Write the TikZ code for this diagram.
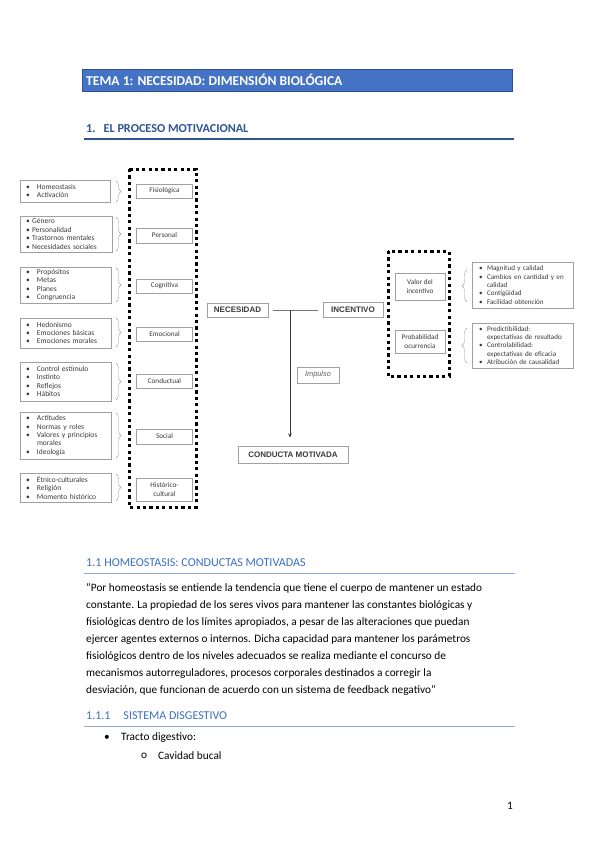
\documentclass[tikz,border=0pt]{standalone}
\usepackage{fontspec}
\setmainfont{Carlito}
\newfontfamily\arialfont{Liberation Sans}
\usetikzlibrary{positioning}
\usetikzlibrary{decorations.pathreplacing}
\usetikzlibrary{arrows.meta}

\definecolor{barblue}{HTML}{4472C4}
\definecolor{barline}{HTML}{2F528F}
\definecolor{headblue}{HTML}{2F5496}
\definecolor{subblue}{HTML}{3B6FC2}
\definecolor{rulelight}{HTML}{8EAADB}
\definecolor{boxgray}{HTML}{A0A0A0}
\definecolor{textgray}{HTML}{3A3A3A}

\newcommand{\dotitem}[1]{\makebox[11pt][l]{\textbullet}#1}
\newcommand{\dotnear}[1]{\textbullet\hspace{2.5pt}#1}
\newcommand{\dotright}[1]{\makebox[8pt][l]{\textbullet}#1}

\begin{document}
\begin{tikzpicture}[x=1pt, y=-1pt,
    itembox/.style={draw=boxgray, align=left, text=textgray, inner xsep=6pt, inner ysep=1pt,
      font=\fontsize{7.5}{8.4}\selectfont},
    catbox/.style={draw=boxgray, align=center, text=textgray, minimum width=56pt, inner sep=1pt,
      font=\fontsize{7.2}{8.4}\selectfont},
    keybox/.style={draw=boxgray, line width=1pt, text=textgray, inner sep=1pt,
      font=\arialfont\bfseries\fontsize{8}{9}\selectfont},
    brc/.style={draw=boxgray, decorate, decoration={brace, amplitude=5pt}},
    dotframe/.style={line width=3pt, dash pattern=on 3.2pt off 3.2pt}]

    \useasboundingbox[fill=white] (0,0) rectangle (599,848);

    % Header
    \node[draw=barline, fill=barblue, line width=0.8pt, minimum width=430pt, minimum height=22pt,
      anchor=north west, inner sep=0] (bar) at (82,69) {};
    \node[anchor=west, text=white, inner sep=0, font=\bfseries\fontsize{13.6}{15}\selectfont]
      (title) at (86,80) {TEMA 1: NECESIDAD: DIMENSIÓN BIOLÓGICA};
    \node[anchor=west, text=headblue, inner sep=0, font=\bfseries\fontsize{12.2}{14}\selectfont]
      (sec) at (86,129) {1.\hspace{8pt}EL PROCESO MOTIVACIONAL};
    \draw[headblue, line width=1.3pt] (84,139) -- (514,139);

    % Left items
    \node[itembox, text width=78pt, minimum height=22pt] (i1) at (65,191)
      {\dotitem{Homeostasis}\\\dotitem{Activación}};
    \node[itembox, text width=80pt, minimum height=36pt] (i2) at (66,234)
      {\dotnear{Género}\\\dotnear{Personalidad}\\\dotnear{Trastornos mentales}\\\dotnear{Necesidades sociales}};
    \node[itembox, text width=79pt, minimum height=36pt] (i3) at (65.5,285)
      {\dotitem{Propósitos}\\\dotitem{Metas}\\\dotitem{Planes}\\\dotitem{Congruencia}};
    \node[itembox, text width=79pt, minimum height=30pt] (i4) at (65.5,333)
      {\dotitem{Hedonismo}\\\dotitem{Emociones básicas}\\\dotitem{Emociones morales}};
    \node[itembox, text width=79pt, minimum height=39pt] (i5) at (65.5,381.5)
      {\dotitem{Control estímulo}\\\dotitem{Instinto}\\\dotitem{Reflejos}\\\dotitem{Hábitos}};
    \node[itembox, text width=79pt, minimum height=47pt] (i6) at (65.5,435.5)
      {\dotitem{Actitudes}\\\dotitem{Normas y roles}\\\dotitem{Valores y principios}\\\hspace*{11pt}morales\\\dotitem{Ideología}};
    \node[itembox, text width=79pt, minimum height=29pt] (i7) at (65.5,487.5)
      {\dotitem{Étnico-culturales}\\\dotitem{Religión}\\\dotitem{Momento histórico}};

    % Categories
    \node[catbox, minimum height=14pt] (fis) at (164.5,191) {Fisiológica};
    \node[catbox, minimum height=15pt] (per) at (164.5,235.5) {Personal};
    \node[catbox, minimum height=14pt] (cog) at (164.5,286) {Cognitiva};
    \node[catbox, minimum height=14pt] (emo) at (164.5,334) {Emocional};
    \node[catbox, minimum height=14pt] (con) at (164.5,381) {Conductual};
    \node[catbox, minimum height=15pt] (soc) at (164.5,436.5) {Social};
    \node[catbox, minimum height=23pt] (his) at (164.5,489.5) {Histórico-\\cultural};

    % Braces
    \draw[brc] (116,181) -- (116,202);
    \draw[brc] (116,217) -- (116,251);
    \draw[brc] (116,268) -- (116,302);
    \draw[brc] (116,318) -- (116,347);
    \draw[brc] (116,363) -- (116,400);
    \draw[brc] (116,413) -- (116,458);
    \draw[brc] (116,474) -- (116,501);

    % Windows
    \draw[dotframe] (129,169) rectangle (196,507);
    \draw[dotframe] (388,251) rectangle (449,376);

    % Centre
    \node[keybox, minimum width=61pt, minimum height=14pt] (nec) at (237.5,310) {NECESIDAD};
    \node[keybox, minimum width=60pt, minimum height=15pt] (inc) at (353,309.5) {INCENTIVO};
    \node[keybox, minimum width=110pt, minimum height=17pt] (cm) at (293,454.5) {CONDUCTA MOTIVADA};
    \node[draw=boxgray, text=textgray!80, minimum width=42pt, minimum height=16pt, inner sep=1pt,
      font=\arialfont\itshape\fontsize{7.4}{9}\selectfont] (imp) at (318,375) {Impulso};
    \coordinate (jn) at (290,310);
    \draw[textgray!70, line width=0.6pt, shorten <=4pt, shorten >=5pt] (nec.east |- jn) -- (inc.west |- jn);
    \draw[textgray, line width=0.6pt, -{Stealth[length=4pt, width=3.5pt]}, shorten >=8pt] (jn) -- (jn |- cm.north);

    % Right side
    \node[catbox, minimum width=50pt, minimum height=27pt] (val) at (420,286.5) {Valor del\\incentivo};
    \node[catbox, minimum width=50pt, minimum height=23pt] (pro) at (420,341.5) {Probabilidad\\ocurrencia};
    \node[itembox, inner xsep=7pt, text width=87pt, minimum height=46pt, font=\fontsize{7.1}{8.4}\selectfont] (r1) at (522.5,285)
      {\dotright{Magnitud y calidad}\\\dotright{Cambios en cantidad y en}\\\hspace*{8pt}calidad\\\dotright{Contigüidad}\\\dotright{Facilidad obtención}};
    \node[itembox, inner xsep=7pt, text width=87pt, minimum height=45pt, font=\fontsize{7.1}{8.4}\selectfont] (r2) at (522.5,345.5)
      {\dotright{Predictibilidad:}\\\hspace*{8pt}expectativas de resultado\\\dotright{Controlabilidad:}\\\hspace*{8pt}expectativas de eficacia\\\dotright{Atribución de causalidad}};
    \draw[brc] (467,302) -- (467,270);
    \draw[brc] (467,363) -- (467,328);

    % Text
    \node[anchor=west, text=subblue, inner sep=0, font=\fontsize{12.1}{14}\selectfont]
      (h11) at (86,563) {1.1 HOMEOSTASIS: CONDUCTAS MOTIVADAS};
    \draw[rulelight, line width=0.9pt] (84,573) -- (515,573);
    \node[anchor=north west, inner sep=0, align=left, font=\fontsize{11.3}{17}\selectfont] (quote) at (86,583)
      {“Por homeostasis se entiende la tendencia que tiene el cuerpo de mantener un estado\\
       constante. La propiedad de los seres vivos para mantener las constantes biológicas y\\
       fisiológicas dentro de los límites apropiados, a pesar de las alteraciones que puedan\\
       ejercer agentes externos o internos. Dicha capacidad para mantener los parámetros\\
       fisiológicos dentro de los niveles adecuados se realiza mediante el concurso de\\
       mecanismos autorreguladores, procesos corporales destinados a corregir la\\
       desviación, que funcionan de acuerdo con un sistema de feedback negativo”};
    \node[anchor=west, text=subblue, inner sep=0, font=\fontsize{12}{14}\selectfont]
      (h111) at (86,716) {1.1.1\hspace{13pt}SISTEMA DISGESTIVO};
    \draw[rulelight, line width=0.9pt] (84,726) -- (515,726);
    \node[anchor=west, inner sep=0, font=\fontsize{11.3}{13}\selectfont] (b1) at (104,738) {\textbullet};
    \node[anchor=west, inner sep=0, font=\fontsize{11.3}{13}\selectfont] (t1) at (121,738) {Tracto digestivo:};
    \node[anchor=west, inner sep=0, font=\fontsize{11.3}{13}\selectfont] (b2) at (141,756) {o};
    \node[anchor=west, inner sep=0, font=\fontsize{11.3}{13}\selectfont] (t2) at (158,756) {Cavidad bucal};
    \node[anchor=west, inner sep=0, font=\fontsize{11.3}{13}\selectfont] (pg) at (507,806) {1};

  \end{tikzpicture}
\end{document}
